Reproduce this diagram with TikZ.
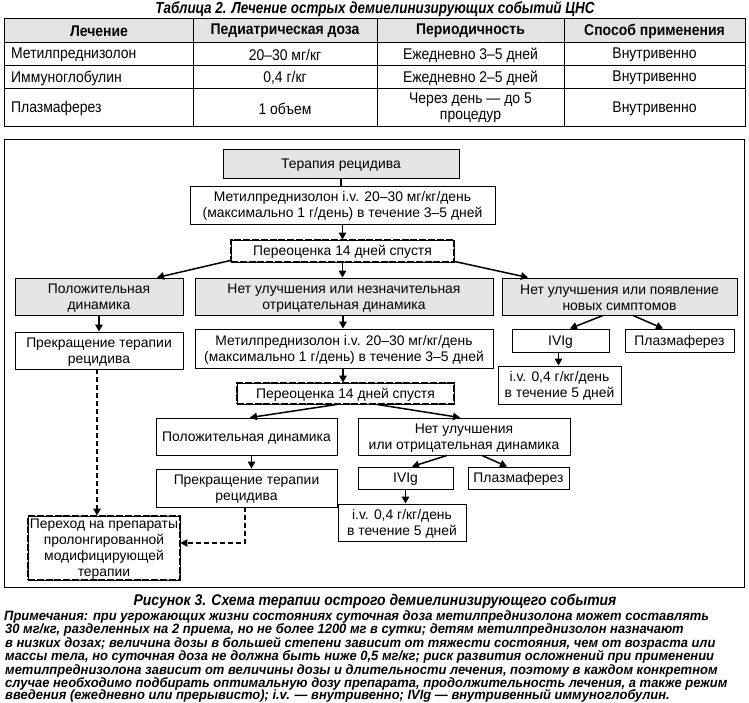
\documentclass[tikz,border=0pt]{standalone}
\usepackage{fontspec}
\setmainfont{Liberation Sans}
\newfontfamily\tabf[FakeStretch=0.9]{Liberation Sans}
\newfontfamily\capf[FakeStretch=0.9]{Liberation Sans}
\newfontfamily\notef[FakeStretch=0.96]{Liberation Sans}
\newfontfamily\titf[FakeStretch=0.84]{Liberation Sans}
\usetikzlibrary{arrows.meta}
\lineskiplimit=-6pt
\newcommand\flowfont{\fontsize{13.9}{16}\selectfont}
\newcommand\tabfont{\tabf\fontsize{15.5}{16}\selectfont}
\newcommand\dn[1]{\raisebox{-1.2pt}[\height][\depth]{#1}}
\begin{document}
\begin{tikzpicture}[x=1pt,y=-1pt,
  box/.style={draw, line width=0.9pt, align=center, inner sep=0pt, font=\flowfont},
  gbox/.style={box, fill=black!10},
  dbox/.style={box, postaction={draw, line width=2.4pt, dash pattern=on 7pt off 1.8pt}},
  arr/.style={line width=1.5pt, -{Triangle[length=7pt,width=7.5pt]}},
  darr/.style={line width=1.3pt, dash pattern=on 5pt off 3pt, -{Triangle[length=7pt,width=7.5pt]}},
  tline/.style={line width=0.8pt},
  ttxt/.style={font=\tabfont, inner sep=0pt, align=center},
  thd/.style={font=\tabfont\bfseries, inner sep=0pt},
  capt/.style={font=\capf\bfseries\itshape\fontsize{15.5}{16}\selectfont, inner sep=0pt},
  note/.style={anchor=base west, inner sep=0pt, font=\notef\bfseries\itshape\fontsize{13.5}{13}\selectfont}
]
\useasboundingbox (0,0) rectangle (749,703);

% ---------- table ----------
\node[inner sep=0pt, font=\titf\bfseries\itshape\fontsize{16}{17}\selectfont] (ttitle) at (375,9.5) {Таблица 2. Лечение острых демиелинизирующих событий ЦНС};
\fill[black!11] (4,18) rectangle (745,42);
\draw[tline] (4,18) rectangle (745,126);
\foreach \yy in {42,65,88} \draw[tline] (4,\yy) -- (745,\yy);
\foreach \xx in {193,377,564} \draw[tline] (\xx,18) -- (\xx,126);
\node[thd] (h1) at (99,31) {Лечение};
\node[thd] (h2) at (285,31) {Педиатрическая доза};
\node[thd] (h3) at (470.5,31) {Периодичность};
\node[thd] (h4) at (654.5,31) {Способ применения};
\node[ttxt, anchor=west] (r11) at (11,55) {Метилпреднизолон};
\node[ttxt] (r12) at (285,55) {20–30 мг/кг};
\node[ttxt] (r13) at (470.5,55) {Ежедневно 3–5 дней};
\node[ttxt] (r14) at (654.5,55) {Внутривенно};
\node[ttxt, anchor=west] (r21) at (11,78) {Иммуноглобулин};
\node[ttxt] (r22) at (285,78) {0,4 г/кг};
\node[ttxt] (r23) at (470.5,78) {Ежедневно 2–5 дней};
\node[ttxt] (r24) at (654.5,78) {Внутривенно};
\node[ttxt, anchor=west] (r31) at (11,108.5) {Плазмаферез};
\node[ttxt] (r32) at (285,108.5) {1 объем};
\node[ttxt, font=\tabf\fontsize{15.5}{16.5}\selectfont] (r33) at (470.5,108) {Через день — до 5\\процедур};
\node[ttxt] (r34) at (654.5,108.5) {Внутривенно};

% ---------- flowchart ----------
\draw[line width=0.9pt] (4,139) rectangle (744,587);

\node[gbox, minimum width=236pt, minimum height=29pt] (n1) at (341,163.5) {\dn{Терапия рецидива}};
\node[box, minimum width=305pt, minimum height=38pt] (n2) at (342.5,205) {\dn{Метилпреднизолон i.v. 20–30 мг/кг/день}\\\dn{(максимально 1 г/день) в течение 3–5 дней}};
\node[dbox, minimum width=223pt, minimum height=22pt] (n3) at (342.5,251) {\dn{Переоценка 14 дней спустя}};
\node[gbox, minimum width=168pt, minimum height=37pt] (n4) at (99,296.5) {\dn{Положительная}\\\dn{динамика}};
\node[gbox, minimum width=298pt, minimum height=37pt] (n5) at (344,296.5) {\dn{Нет улучшения или незначительная}\\\dn{отрицательная динамика}};
\node[gbox, minimum width=235pt, minimum height=37pt] (n6) at (619.5,296.5) {\dn{Нет улучшения или появление}\\\dn{новых симптомов}};
\node[box, minimum width=168pt, minimum height=37pt] (n7) at (99,350.5) {\dn{Прекращение терапии}\\\dn{рецидива}};
\node[box, minimum width=298pt, minimum height=39pt] (n8) at (344,348.5) {\dn{Метилпреднизолон i.v. 20–30 мг/кг/день}\\\dn{(максимально 1 г/день) в течение 3–5 дней}};
\node[box, minimum width=97pt, minimum height=23pt] (n9) at (560.5,340.5) {\dn{IVIg}};
\node[box, minimum width=109pt, minimum height=23pt] (n10) at (679.5,340.5) {\dn{Плазмаферез}};
\node[box, minimum width=123pt, minimum height=38pt] (n11) at (559.5,385) {\dn{i.v. 0,4 г/кг/день}\\\dn{в течение 5 дней}};
\node[dbox, minimum width=217pt, minimum height=21pt] (n12) at (345.5,393.5) {\dn{Переоценка 14 дней спустя}};
\node[box, minimum width=181pt, minimum height=37pt] (n13) at (246.5,436.5) {\dn{Положительная динамика}};
\node[box, minimum width=212pt, minimum height=37pt] (n14) at (464,436.5) {\dn{Нет улучшения}\\\dn{или отрицательная динамика}};
\node[box, minimum width=181pt, minimum height=38pt] (n15) at (246.5,488) {\dn{Прекращение терапии}\\\dn{рецидива}};
\node[box, minimum width=95pt, minimum height=22pt] (n16) at (405.5,478) {\dn{IVIg}};
\node[box, minimum width=101pt, minimum height=22pt] (n17) at (518.5,478) {\dn{Плазмаферез}};
\node[box, minimum width=128pt, minimum height=37pt] (n18) at (402,522.5) {\dn{i.v. 0,4 г/кг/день}\\\dn{в течение 5 дней}};
\node[dbox, minimum width=152pt, minimum height=64pt] (n19) at (104,548) {\dn{Переход на препараты}\\\dn{пролонгированной}\\\dn{модифицирующей}\\\dn{терапии}};

\draw[line width=1.5pt] (n1.south) -- (n1.south |- n2.north);
\draw[arr] (n2.south) -- (n2.south |- n3.north);
\draw[arr] ([yshift=2pt]n3.south west) -- ([xshift=58pt]n4.north);
\draw[arr] (n3.south) -- (n3.south |- n5.north);
\draw[arr] ([yshift=1pt]n3.south east) -- ([xshift=-91.5pt]n6.north);
\draw[arr] (n4.south) -- (n4.south |- n7.north);
\draw[arr] ([xshift=-1pt]n5.south) -- ([xshift=-1pt]n5.south |- n8.north);
\draw[arr] ([xshift=-1pt]n8.south) -- ([xshift=-1pt]n8.south |- n12.north);
\draw[arr] ([xshift=-16.5pt]n6.south) -- ([xshift=9.5pt]n9.north);
\draw[arr] ([xshift=13.5pt]n6.south) -- ([xshift=-16.5pt]n10.north);
\draw[arr] ([xshift=-2pt]n9.south) -- ([xshift=-2pt]n9.south |- n11.north);
\draw[arr] ([xshift=-8.5pt]n12.south) -- ([xshift=3.5pt]n13.north);
\draw[arr] ([xshift=31.5pt]n12.south) -- ([xshift=-4pt]n14.north);
\draw[arr] ([xshift=5pt]n13.south) -- ([xshift=5pt]n13.south |- n15.north);
\draw[arr] ([xshift=-17pt]n14.south) -- ([xshift=6.5pt]n16.north);
\draw[arr] ([xshift=18pt]n14.south) -- ([xshift=-11.5pt]n17.north);
\draw[arr] (n16.south) -- (n16.south |- n18.north);
\draw[darr] ([xshift=-2pt]n7.south) -- ([xshift=-2pt]n7.south |- n19.north);
\draw[darr] ([xshift=-1.5pt]n15.south) |- ([yshift=5pt]n19.east);

% ---------- caption and notes ----------
\node[capt] (cap) at (375,601) {Рисунок 3. Схема терапии острого демиелинизирующего события};
\node[note] (l1) at (4,620.5) {Примечания: при угрожающих жизни состояниях суточная доза метилпреднизолона может составлять};
\node[note] (l2) at (5,633.9) {30 мг/кг, разделенных на 2 приема, но не более 1200 мг в сутки; детям метилпреднизолон назначают};
\node[note] (l3) at (5,647.3) {в низких дозах; величина дозы в большей степени зависит от тяжести состояния, чем от возраста или};
\node[note] (l4) at (5,660.7) {массы тела, но суточная доза не должна быть ниже 0,5 мг/кг; риск развития осложнений при применении};
\node[note] (l5) at (5,674.1) {метилпреднизолона зависит от величины дозы и длительности лечения, поэтому в каждом конкретном};
\node[note] (l6) at (5,687.5) {случае необходимо подбирать оптимальную дозу препарата, продолжительность лечения, а также режим};
\node[note] (l7) at (5,699.8) {введения (ежедневно или прерывисто); i.v. — внутривенно; IVIg — внутривенный иммуноглобулин.};
\end{tikzpicture}
\end{document}
